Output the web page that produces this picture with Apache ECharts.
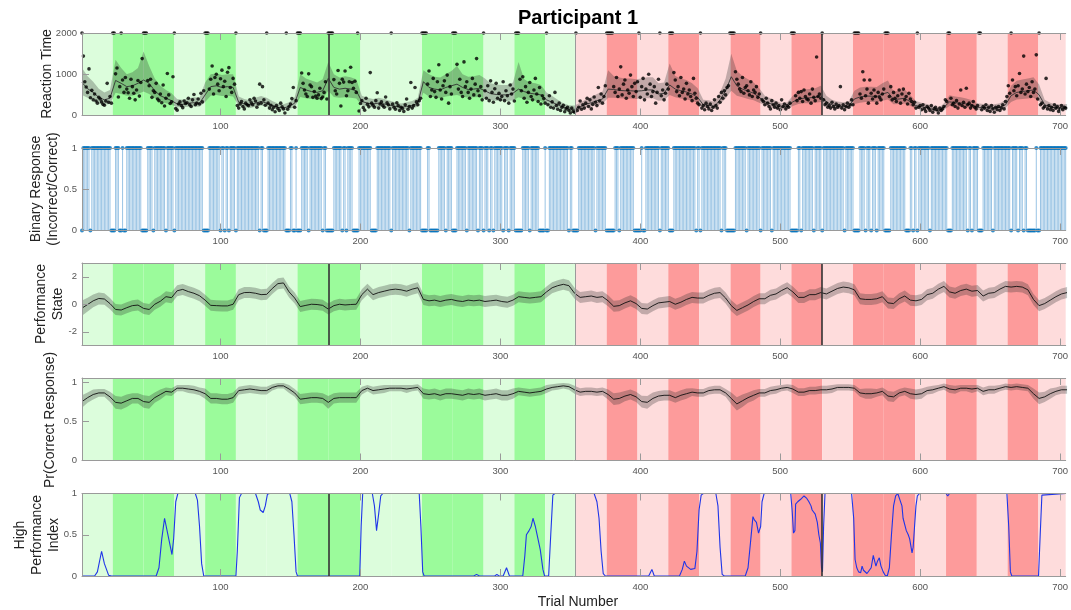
<!DOCTYPE html>
<html>
<head>
<meta charset="utf-8">
<script src="https://cdn.jsdelivr.net/npm/echarts@6/dist/echarts.min.js"></script>
<style>html,body{margin:0;padding:0;background:#fff}#main{width:1071px;height:610px}</style>
</head>
<body>
<div id="main"></div>
<script>
// block edges (trial numbers) and shading of each block: 0 = light, 1 = strong
const blockEdges = [1, 23, 45, 67, 89, 111, 133, 155, 177, 200, 222, 244, 266, 288, 310, 332, 353.5,
  376, 398, 420, 442, 464.5, 486, 508, 530, 552, 574, 596.5, 618.5, 640.5, 662.5, 684.5, 706];
const blockStrong = [0,1,1,0,1,0,0,1,1,0,0,1,1,0,1,0, 0,1,0,1,0,1,0,1,0,1,1,0,1,0,1,0];
const sessionLines = [177, 530];
const halfLine = 353.5;

const xTicks = [100, 200, 300, 400, 500, 600, 700];

// reaction time of every trial (ms), 22 trials per block
const rt = [
  2000,1440,820,690,560,1130,430,610,380,520,350,300,440,400,330,270,250,350,780,320,460,300,
  2000,2000,1010,1150,450,700,2000,860,560,920,640,550,420,880,700,540,380,620,850,470,800,1380,
  2000,2000,2000,850,720,880,440,600,560,780,400,360,520,310,740,230,420,1020,500,290,330,940,
  2000,170,130,280,330,240,190,350,290,310,420,260,220,380,510,260,300,400,280,540,330,600,
  2000,2000,2000,640,880,1200,520,920,1000,760,600,890,1100,700,830,460,1050,1160,680,560,900,760,
  2000,240,180,280,340,220,160,300,260,240,380,310,260,420,350,200,280,760,300,700,380,250,
  2000,300,180,250,140,200,90,240,170,120,300,210,160,60,2000,150,220,280,410,680,200,360,
  2000,2000,2000,1030,780,620,520,460,1010,740,700,440,580,470,420,500,660,410,450,560,820,400,
  2000,2000,2000,2000,870,600,520,1090,780,230,880,810,1080,480,600,820,1170,800,660,830,560,2000,
  110,290,360,190,130,420,270,210,1040,300,250,200,360,550,180,280,330,240,200,450,310,260,
  160,2000,280,200,150,310,240,120,200,170,100,260,400,150,220,800,180,240,680,330,260,360,
  420,2000,2000,2000,2000,760,1080,460,620,900,580,440,820,1230,620,400,720,840,560,980,300,700,
  520,2000,2000,2000,1240,640,880,560,460,1300,700,820,560,420,640,900,500,760,1380,600,480,700,
  380,2000,600,420,720,360,840,560,320,650,780,420,540,380,460,820,360,600,480,300,740,520,
  640,350,2000,2000,2000,880,600,940,420,700,320,560,800,460,380,620,900,520,340,680,280,480,
  410,300,2000,260,480,200,330,180,560,240,150,300,120,200,250,90,160,200,120,60,180,100,
  80,2000,120,200,350,150,260,180,300,420,220,380,160,270,450,320,240,680,350,520,300,460,
  720,2000,2000,2000,2000,2000,700,560,920,460,640,1180,500,760,860,420,620,540,980,700,460,780,
  580,820,2000,440,700,900,380,640,520,1000,760,460,580,700,300,560,880,2000,480,620,380,540,
  760,640,2000,2000,2000,1040,860,580,700,480,920,560,640,400,780,520,620,460,360,900,540,420,
  300,260,2000,180,240,140,300,220,160,280,120,200,380,240,180,460,320,560,420,600,500,680,
  720,2000,2000,2000,2000,1060,880,760,640,580,920,540,680,720,600,500,820,460,620,560,700,440,
  520,2000,380,340,260,420,300,220,160,360,260,200,300,180,240,140,380,220,280,160,240,200,
  300,2000,2000,2000,480,360,560,420,580,340,620,460,400,380,520,300,640,440,360,1420,460,520,
  420,2000,380,260,300,200,240,180,320,220,160,280,200,240,700,180,260,140,220,300,200,260,
  380,260,2000,2000,2000,2000,520,420,1060,860,480,640,300,860,540,400,620,460,300,560,440,380,
  520,640,2000,2000,2000,460,700,380,560,420,340,480,620,300,520,640,380,460,280,540,400,340,
  260,320,180,2000,200,240,140,260,160,100,220,180,120,240,80,160,200,140,60,180,120,160,
  220,380,340,2000,2000,420,260,300,220,360,180,280,620,240,320,200,660,260,300,180,240,340,
  200,160,240,2000,2000,140,220,180,260,120,200,100,240,160,80,200,140,220,120,180,260,160,
  340,460,720,540,2000,860,600,700,480,720,1020,560,640,1440,520,760,580,680,460,820,560,640,
  1470,400,2000,260,300,180,220,900,160,240,140,200,120,260,180,220,100,160,240,140,200,180
];

// trials answered incorrectly (all others correct)
const incorrect = [1,7,22,23,24,28,29,31,32,44,45,46,47,52,61,67,88,89,90,91,100,103,106,111,128,131,132,133,
  147,148,149,152,153,155,156,157,163,173,176,177,178,179,180,187,190,195,196,197,198,208,209,210,211,222,235,
  244,245,246,247,250,251,252,253,254,255,261,266,267,268,276,284,288,292,295,302,306,311,312,313,314,315,321,
  328,329,330,331,333,334,349,352,353,354,355,368,376,377,378,379,380,381,385,396,397,398,399,400,402,403,414,
  421,422,423,440,443,458,462,463,464,465,466,467,476,486,494,508,509,510,511,512,515,524,530,546,553,554,555,
  556,561,565,569,575,576,577,578,590,591,592,595,598,607,620,621,622,634,637,642,643,644,652,665,670,674,677,
  678,679,680,681,682,684,685];

// smoothed curves, read every 4th trial starting at trial 1
const step = 4;
const rtMean = [
  800,650,560,440,380,420,850,780,700,720, 780,860,780,600,480,420,360,280,270,300,
  310,300,500,700,720,680,700,680,320,280, 260,300,340,300,240,200,180,220,300,680,
  620,580,560,600,900,680,640,660,640,600, 340,300,280,300,280,250,220,200,220,240,
  300,820,680,640,620,680,720,760,680,630, 640,660,600,530,510,500,500,540,640,580,
  540,520,500,380,320,260,200,160,150,210, 270,310,360,400,640,630,610,600,600,590,
  600,620,620,520,540,740,640,600,570,520, 440,260,250,220,380,600,940,720,640,590,
  540,440,330,290,240,200,220,330,400,420, 430,440,480,330,260,230,220,230,400,450,
  470,470,460,520,560,390,400,420,330,240, 210,190,150,110,200,330,310,300,280,250,
  200,190,180,180,200,260,480,560,580,600, 620,500,260,210,180,180,190
];
const rtLo = [
  500,430,380,300,260,280,550,520,480,480, 520,580,520,420,340,300,260,200,200,210,
  220,210,330,480,500,470,480,460,230,200, 180,210,240,220,170,140,130,160,200,450,
  420,400,390,400,600,450,430,440,430,410, 240,210,200,210,200,180,160,140,160,170,
  210,550,460,440,420,460,480,500,460,430, 440,450,410,370,360,350,350,370,440,400,
  370,360,350,270,230,190,140,110,100,150, 190,220,250,280,430,430,420,410,410,400,
  410,420,420,360,370,500,440,410,390,360, 310,180,180,160,270,410,600,480,440,400,
  370,310,240,210,170,140,160,230,280,300, 300,310,330,230,180,160,160,160,280,310,
  330,330,320,360,390,270,280,290,230,170, 150,140,100,80,140,230,220,210,200,180,
  140,130,130,130,140,180,330,390,400,410, 430,350,180,150,130,130,130
];
const rtHi = [
  1150,950,820,650,560,620,1350,1150,1000,1050, 1150,1550,1200,900,720,620,540,400,380,420,
  440,430,800,1000,1020,980,1000,1000,460,400, 370,430,470,430,350,290,270,320,440,1000,
  900,850,800,880,1300,1000,920,950,930,880, 480,430,400,430,400,360,320,290,320,350,
  430,1100,1000,940,920,1000,1080,1200,1000,940, 950,980,900,780,750,740,740,800,1300,880,
  800,780,740,560,470,380,300,250,240,310, 390,450,520,580,1100,960,920,900,900,880,
  900,930,930,780,800,1260,960,900,860,780, 660,380,370,330,560,900,1500,1080,960,880,
  800,660,480,420,350,300,320,480,600,630, 640,660,720,480,380,340,320,340,600,680,
  700,700,690,780,850,580,600,630,490,350, 310,280,230,170,300,490,460,440,410,370,
  300,280,270,270,300,380,720,840,870,900, 930,750,380,310,270,270,280
];
const stateMean = [
  -0.28,-0.02,0.25,0.42,0.38,0.05,-0.38,-0.42,-0.25,-0.1, -0.06,-0.3,-0.38,0.0,0.22,0.55,0.48,0.98,1.08,0.92,
  0.8,0.62,0.3,-0.08,-0.1,-0.12,-0.12,0.0,0.7,0.85, 0.86,0.8,0.7,0.72,1.15,1.5,1.55,0.9,0.45,-0.17,
  -0.08,0.0,-0.02,-0.08,-0.35,-0.1,0.0,-0.05,-0.02,0.0, 0.7,1.1,0.7,0.85,0.95,1.05,1.1,1.05,0.95,1.1,
  1.2,0.35,0.25,0.3,0.2,0.3,0.35,0.25,0.2,0.3, 0.25,0.3,0.2,0.25,0.3,0.2,0.15,0.3,0.55,0.5,
  0.45,0.5,0.55,0.9,1.2,1.35,1.45,1.35,0.8,0.5, 0.55,0.6,0.5,0.55,0.25,-0.15,-0.1,0.1,0.25,0.05,
  -0.3,-0.35,-0.1,0.1,0.15,0.2,0.0,0.15,0.35,0.5, 0.45,0.45,0.65,0.8,0.85,0.45,-0.1,-0.45,-0.25,-0.05,
  0.2,0.4,0.4,0.65,0.75,1.0,1.2,0.9,0.5,0.5, 0.7,0.7,0.85,0.75,0.95,1.15,1.25,1.2,1.05,0.4,
  0.35,0.35,0.4,0.55,0.1,0.05,0.4,0.6,0.3,0.25, 0.35,0.7,0.8,1.1,1.3,0.9,0.8,1.0,1.1,0.95,
  1.0,0.6,0.8,0.85,1.1,1.3,1.25,1.3,1.25,1.05, 0.35,-0.1,0.05,0.3,0.55,0.75,0.85
];
const stateBand = [
  0.55,0.5,0.46,0.43,0.42,0.41,0.4,0.4,0.4,0.4, 0.4,0.4,0.4,0.4,0.4,0.4,0.4,0.4,0.4,0.4,
  0.4,0.4,0.4,0.4,0.4,0.4,0.4,0.4,0.4,0.4, 0.4,0.4,0.4,0.4,0.4,0.4,0.4,0.4,0.4,0.4,
  0.4,0.4,0.4,0.4,0.4,0.4,0.4,0.4,0.4,0.4, 0.4,0.4,0.4,0.4,0.4,0.4,0.4,0.4,0.4,0.4,
  0.4,0.4,0.4,0.4,0.4,0.4,0.4,0.4,0.4,0.4, 0.4,0.4,0.4,0.4,0.4,0.4,0.4,0.4,0.4,0.4,
  0.4,0.4,0.4,0.4,0.4,0.4,0.4,0.4,0.4,0.4, 0.4,0.4,0.4,0.4,0.4,0.4,0.4,0.4,0.4,0.4,
  0.4,0.4,0.4,0.4,0.4,0.4,0.4,0.4,0.4,0.4, 0.4,0.4,0.4,0.4,0.4,0.4,0.4,0.4,0.4,0.4,
  0.4,0.4,0.4,0.4,0.4,0.4,0.4,0.4,0.4,0.4, 0.4,0.4,0.4,0.4,0.4,0.4,0.4,0.4,0.4,0.4,
  0.4,0.4,0.4,0.4,0.4,0.4,0.4,0.4,0.4,0.4, 0.4,0.4,0.4,0.4,0.4,0.4,0.4,0.4,0.4,0.4,
  0.4,0.4,0.4,0.4,0.4,0.4,0.4,0.4,0.4,0.4, 0.4,0.4,0.4,0.4,0.4,0.4,0.4
];
const pcMean = [
  0.75,0.80,0.84,0.86,0.86,0.81,0.74,0.73,0.76,0.79, 0.79,0.75,0.74,0.80,0.84,0.88,0.87,0.92,0.92,0.91,
  0.90,0.88,0.85,0.79,0.79,0.78,0.78,0.80,0.89,0.90, 0.91,0.90,0.89,0.89,0.93,0.95,0.95,0.91,0.86,0.78,
  0.79,0.80,0.80,0.79,0.74,0.79,0.80,0.80,0.80,0.80, 0.89,0.92,0.89,0.90,0.91,0.92,0.92,0.92,0.91,0.92,
  0.93,0.85,0.84,0.85,0.83,0.85,0.85,0.84,0.83,0.85, 0.84,0.85,0.83,0.84,0.85,0.83,0.83,0.85,0.88,0.87,
  0.86,0.87,0.88,0.91,0.93,0.94,0.95,0.94,0.90,0.87, 0.88,0.88,0.87,0.88,0.84,0.78,0.79,0.82,0.84,0.81,
  0.75,0.74,0.79,0.82,0.83,0.83,0.80,0.83,0.85,0.87, 0.86,0.86,0.89,0.90,0.90,0.86,0.79,0.72,0.76,0.80,
  0.83,0.86,0.86,0.89,0.90,0.92,0.93,0.91,0.87,0.87, 0.89,0.89,0.90,0.90,0.91,0.93,0.93,0.93,0.92,0.86,
  0.85,0.85,0.86,0.88,0.82,0.81,0.86,0.88,0.85,0.84, 0.85,0.89,0.90,0.92,0.94,0.91,0.90,0.92,0.92,0.91,
  0.92,0.88,0.90,0.90,0.92,0.94,0.93,0.94,0.93,0.92, 0.85,0.79,0.81,0.85,0.88,0.90,0.90
];
const pcBand = [
  0.08,0.065,0.065,0.05,0.05,0.065,0.08,0.08,0.08,0.065, 0.065,0.08,0.08,0.065,0.065,0.05,0.05,0.04,0.04,0.05,
  0.05,0.05,0.065,0.065,0.065,0.065,0.065,0.065,0.05,0.05, 0.05,0.05,0.05,0.05,0.04,0.035,0.035,0.05,0.05,0.065,
  0.065,0.065,0.065,0.065,0.08,0.065,0.065,0.065,0.065,0.065, 0.05,0.04,0.05,0.05,0.05,0.04,0.04,0.04,0.05,0.04,
  0.04,0.065,0.065,0.065,0.065,0.065,0.065,0.065,0.065,0.065, 0.065,0.065,0.065,0.065,0.065,0.065,0.065,0.065,0.05,0.05,
  0.05,0.05,0.05,0.05,0.04,0.04,0.035,0.04,0.05,0.05, 0.05,0.05,0.05,0.05,0.065,0.075,0.075,0.065,0.065,0.065,
  0.075,0.08,0.075,0.065,0.065,0.065,0.065,0.065,0.065,0.05, 0.05,0.05,0.05,0.05,0.05,0.05,0.075,0.085,0.08,0.065,
  0.065,0.05,0.05,0.05,0.05,0.04,0.04,0.05,0.05,0.05, 0.05,0.05,0.05,0.05,0.05,0.04,0.04,0.04,0.04,0.05,
  0.065,0.065,0.05,0.05,0.065,0.065,0.05,0.05,0.065,0.065, 0.065,0.05,0.05,0.04,0.04,0.05,0.05,0.04,0.04,0.05,
  0.04,0.05,0.05,0.05,0.04,0.04,0.04,0.04,0.04,0.04, 0.065,0.075,0.065,0.065,0.05,0.05,0.05
];

// high performance index, read at its turning points
const hpiT = [1,10,12,15,17,20,22,54,56,58,60,61,63,65.3,66.5,68,69.5,82,83.5,85,86.5,88,111,112,113.5,115,125,127,
  128.4,129.5,130.5,132,133.5,135,149.5,151,152.5,154,155,199.5,200.5,201.6,208.5,210,211.5,213,214.5,216,242,243.2,
  244.5,245.5,281,283,285,296,297.5,299,302,304.4,306.5,316,317.5,318.6,319.5,320.5,322,323.3,325,326,328.5,330.4,
  331.6,334.5,336,337.5,339,367,369,370.5,372,373.5,375,406,408.3,410,428,430,431.5,433,436,439,440.5,442,443.5,445,
  454,455.5,457,458.5,460,475,477,479,480.5,481.5,483,484.5,486,487,488.5,507.5,508.5,509.5,510.5,511,512.5,514.6,
  517,519,520.5,522,522.8,525,526.5,527.6,528.7,529.5,530.2,531,532,551,552.5,553.5,554.7,556,557.5,558.5,559.5,
  560.6,562,563,565,566.5,567.5,568.4,569.5,570.8,572,573.6,575,576.5,578,579.5,581,582.5,584,585.4,587,587.8,589,
  590.1,591.5,592.5,594.2,595,596,597,598,599.6,618.5,619.7,621,662,663.3,664.5,665.5,684.6,685.8,687,688,704];
const hpiV = [0,0,0.05,0.3,0.15,0.01,0,0,0.1,0.45,0.7,0.68,0.45,0.26,0.45,0.9,1,1,0.92,0.6,0.15,0,0,0.3,0.95,1,1,0.9,
  0.8,0.82,0.77,0.85,0.99,1,1,0.9,0.5,0.05,0,0,0.6,1,1,0.85,0.55,0.75,0.97,1,1,0.6,
  0.05,0,0,0.02,0,0,0.02,0,0,0.1,0,0,0.25,0.5,0.48,0.55,0.6,0.7,0.6,0.52,0.32,0.08,
  0,0,0.5,0.98,1,1,0.9,0.7,0.3,0.03,0,0,0.08,0,0,0.08,0.18,0.12,0.08,0.09,0.3,0.8,0.98,1,
  1,0.85,0.35,0.02,0,0,0.1,0.45,0.72,0.68,0.65,0.52,0.6,0.9,1,1,0.8,0.52,0.55,0.87,0.9,0.93,
  0.97,0.94,0.9,0.85,0.8,0.75,0.65,0.5,0.4,0.1,0.05,0.6,1,1,0.7,0.2,0.1,0.05,0.04,0.12,0.07,
  0.05,0.03,0.02,0.1,0.25,0.18,0.12,0.18,0.22,0.12,0.05,0.01,0,0.1,0.5,0.85,0.97,1,1,0.85,0.7,0.68,
  0.55,0.5,0.45,0.28,0.35,0.6,0.85,0.97,1,1,0.97,1,1,0.6,0.05,0,0,0.5,0.98,1,1];

const font = 'Liberation Sans, Arial, sans-serif';
const axisCol = '#9a9a9a';
const labCol = '#555';
const ciCol = 'rgba(40,40,40,0.28)';
const tops = [33, 148, 263, 378, 493.5];
const gridH = 82.5;

const sampleT = rtMean.map((_, i) => 1 + i * step);
const pairs = arr => arr.map((v, i) => [sampleT[i], v]);

function bandAreas() {
  const out = [];
  for (let k = 0; k < blockStrong.length; k++) {
    const red = k >= 16;
    const col = red ? (blockStrong[k] ? '#fd9b9b' : '#fedcdc') : (blockStrong[k] ? '#9bfb9b' : '#dcfddc');
    out.push([{ xAxis: blockEdges[k], itemStyle: { color: col, opacity: 1 } }, { xAxis: blockEdges[k + 1] }]);
  }
  return out;
}

function bgSeries(g) {
  return {
    type: 'line', xAxisIndex: g, yAxisIndex: g, data: [], silent: true, z: 1,
    markArea: { silent: true, animation: false, data: bandAreas() }
  };
}

function vLines(g, sessions) {
  const d = [{ xAxis: halfLine, lineStyle: { color: '#9a9a9a', width: 1, type: 'solid' } }];
  if (sessions) sessionLines.forEach(x => d.push({ xAxis: x, lineStyle: { color: '#333', width: 1.6, type: 'solid' } }));
  return {
    type: 'line', xAxisIndex: g, yAxisIndex: g, data: [], silent: true, z: 6,
    markLine: { silent: true, animation: false, symbol: ['none', 'none'], label: { show: false }, data: d }
  };
}

// confidence band drawn as one polygon through the axis scales
function ciSeries(g, lo, hi, anchor) {
  return {
    type: 'custom', xAxisIndex: g, yAxisIndex: g, silent: true, z: 2, data: [anchor],
    renderItem: function (params, api) {
      const pts = [];
      for (let i = 0; i < hi.length; i++) pts.push(api.coord([sampleT[i], hi[i]]));
      for (let i = lo.length - 1; i >= 0; i--) pts.push(api.coord([sampleT[i], lo[i]]));
      return { type: 'polygon', shape: { points: pts }, style: { fill: ciCol } };
    }
  };
}

function meanLine(g, arr, col) {
  return { type: 'line', xAxisIndex: g, yAxisIndex: g, symbol: 'none', silent: true, z: 3,
    lineStyle: { color: col, width: 0.9 }, data: pairs(arr) };
}

const xAxes = [];
for (let g = 0; g < 5; g++) {
  xAxes.push({
    type: 'value', gridIndex: g, min: 1, max: 704, position: 'bottom', z: 10,
    axisLine: { show: true, onZero: false, lineStyle: { color: axisCol, width: 1 } },
    axisTick: { show: true, inside: true, length: 7, customValues: xTicks, lineStyle: { color: axisCol } },
    axisLabel: { show: true, customValues: xTicks, margin: 6, fontSize: 9.5, color: labCol, fontFamily: font,
      formatter: v => String(v) },
    splitLine: { show: false }
  });
}
for (let g = 0; g < 5; g++) {
  xAxes.push({
    type: 'value', gridIndex: g, min: 1, max: 704, position: 'top', z: 10,
    axisLine: { show: true, onZero: false, lineStyle: { color: axisCol, width: 1 } },
    axisTick: { show: true, inside: true, length: 7, customValues: xTicks, lineStyle: { color: axisCol } },
    axisLabel: { show: false }, splitLine: { show: false }
  });
}

function yAx(g, min, max, ticks) {
  return {
    type: 'value', gridIndex: g, min: min, max: max, z: 10,
    axisLine: { show: true, onZero: false, lineStyle: { color: axisCol, width: 1 } },
    axisTick: { show: true, inside: true, length: 7, customValues: ticks, lineStyle: { color: axisCol } },
    axisLabel: { customValues: ticks, margin: 5, fontSize: 9.5, color: labCol, fontFamily: font,
      formatter: v => String(v) },
    splitLine: { show: false }
  };
}

const stateLo = stateMean.map((v, i) => v - stateBand[i]);
const stateHi = stateMean.map((v, i) => v + stateBand[i]);
const pcLo = pcMean.map((v, i) => v - pcBand[i]);
const pcHi = pcMean.map((v, i) => v + pcBand[i]);

const binary = rt.map((_, i) => incorrect.includes(i + 1) ? 0 : 1);

function yName(x, y, text) {
  return { type: 'text', x: x, y: y, rotation: Math.PI / 2, silent: true,
    style: { text: text, font: '14px ' + font, fill: '#222', textAlign: 'center', textVerticalAlign: 'middle', lineHeight: 17 } };
}

const chart = echarts.init(document.getElementById('main'));
chart.setOption({
  animation: false,
  grid: tops.map(t => ({ left: 82, width: 992, top: t, height: gridH })),
  xAxis: xAxes,
  yAxis: [
    yAx(0, 0, 2000, [0, 1000, 2000]),
    yAx(1, 0, 1, [0, 0.5, 1]),
    yAx(2, -3, 3, [-2, 0, 2]),
    yAx(3, 0, 1.05, [0, 0.5, 1]),
    yAx(4, 0, 1, [0, 0.5, 1])
  ],
  graphic: [
    { type: 'text', x: 578, y: 18, silent: true,
      style: { text: 'Participant 1', font: 'bold 20px ' + font, fill: '#000', textAlign: 'center', textVerticalAlign: 'middle' } },
    yName(47, 74, 'Reaction Time'),
    yName(45, 189, 'Binary Response\n(Incorrect/Correct)'),
    yName(50, 304, 'Performance\nState'),
    yName(50, 420, 'Pr(Correct Response)'),
    yName(37, 535, 'High\nPerformance\nIndex'),
    { type: 'text', x: 578, y: 602, silent: true,
      style: { text: 'Trial Number', font: '14px ' + font, fill: '#222', textAlign: 'center', textVerticalAlign: 'middle' } }
  ],
  series: [
    bgSeries(0),
    ciSeries(0, rtLo, rtHi, [352, 500]),
    meanLine(0, rtMean, '#333'),
    { type: 'scatter', xAxisIndex: 0, yAxisIndex: 0, symbolSize: 3.6, clip: false, silent: true, z: 4,
      itemStyle: { color: '#000' }, data: rt.map((v, i) => [i + 1, v]) },
    vLines(0, true),

    { type: 'bar', xAxisIndex: 1, yAxisIndex: 1, barWidth: 1, silent: true, z: 2,
      itemStyle: { color: '#9ac4e4' },
      data: binary.map((v, i) => [i + 1, v]).filter(p => p[1] === 1) },
    { type: 'scatter', xAxisIndex: 1, yAxisIndex: 1, symbolSize: 4, clip: false, silent: true, z: 4,
      itemStyle: { color: '#0072bd' }, data: binary.map((v, i) => [i + 1, v]) },

    bgSeries(2),
    ciSeries(2, stateLo, stateHi, [352, 0]),
    meanLine(2, stateMean, '#111'),
    vLines(2, true),

    bgSeries(3),
    ciSeries(3, pcLo, pcHi, [352, 0.5]),
    meanLine(3, pcMean, '#111'),
    vLines(3, false),

    bgSeries(4),
    { type: 'line', xAxisIndex: 4, yAxisIndex: 4, symbol: 'none', silent: true, z: 3,
      lineStyle: { color: '#1f35e8', width: 1.1 }, data: hpiT.map((t, i) => [t, hpiV[i]]) },
    vLines(4, true)
  ]
});
</script>
</body>
</html>
